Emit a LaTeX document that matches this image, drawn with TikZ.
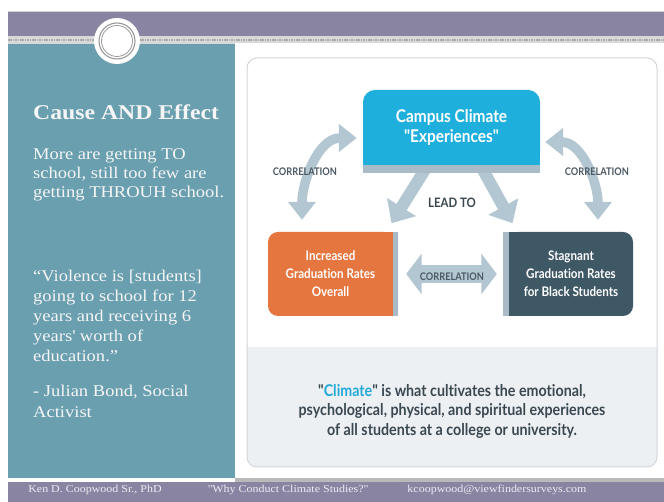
\documentclass[tikz,border=0pt]{standalone}
\usepackage{fontspec}
\setmainfont{Liberation Serif}[FakeStretch=1.13]
\newfontfamily\dfont{Lato}[FakeStretch=0.88,Ligatures=NoCommon]
\usetikzlibrary{arrows.meta}
\definecolor{band}{HTML}{8A84A3}
\definecolor{tealp}{HTML}{6A9FB0}
\definecolor{stripc}{HTML}{D9D9D9}
\definecolor{dashc}{HTML}{ABABAB}
\definecolor{cyanbox}{HTML}{1FAFDD}
\definecolor{orangebox}{HTML}{E5763F}
\definecolor{darkbox}{HTML}{3F5866}
\definecolor{edgegray}{HTML}{A9BBC6}
\definecolor{arrowc}{HTML}{B3C7D3}
\definecolor{labelc}{HTML}{4B5963}
\definecolor{lowbg}{HTML}{EDF0F2}
\definecolor{bodyc}{HTML}{3A4852}
\definecolor{climc}{HTML}{22A9D8}
\definecolor{leftc}{HTML}{F5F5F5}
\definecolor{footc}{HTML}{EEEBF3}
\definecolor{panelborder}{HTML}{D2D6D9}
\pgfdeclarelayer{back}
\pgfdeclarelayer{mid}
\pgfsetlayers{back,mid,main}
\begin{document}
\begin{tikzpicture}[x=1pt,y=1pt,
  lefttxt/.style={anchor=base west, text=leftc, inner sep=0, font=\fontsize{16.4}{19}\selectfont},
  foot/.style={anchor=base, text=footc, inner sep=0, font=\fontsize{10.6}{12}\selectfont},
  boxtxt/.style={text=white, align=center, inner sep=0, font=\dfont\bfseries\fontsize{13.2}{18}\selectfont},
  lbl/.style={text=labelc, inner sep=0, font=\dfont\bfseries\fontsize{10.5}{12}\selectfont},
  fatarrow/.style={draw=arrowc, line width=12pt, -{Triangle[width=33pt,length=19pt]}},
  curvarrow/.style={draw=arrowc, line width=9.5pt, {Triangle[width=27pt,length=18pt]}-{Triangle[width=27pt,length=18pt]}},
  midarrow/.style={draw=arrowc, line width=18.4pt, {Triangle[width=40pt,length=15.5pt]}-{Triangle[width=40pt,length=15.5pt]}},
]
\useasboundingbox (0,0) rectangle (664,502);
\begin{pgfonlayer}{back}
\fill[white] (0,0) rectangle (664,502);
% top band
\fill[band] (8,466) rectangle (664,490);
\fill[gray!35] (8,490) rectangle (664,491);
\fill[stripc] (8,458) rectangle (664,466);
\draw[dashc, line width=1.6pt, dash pattern=on 1.6pt off 0.8pt] (8,462) -- (664,462);
% teal panel
\fill[tealp] (8,24) rectangle (235,458);
\fill[white] (235,24) rectangle (664,459);
\fill[gray!55] (235,20) rectangle (664,23.5);
% footer
\fill[band] (8,0) rectangle (664,20);
% circle ornament
\fill[white] (117,461) circle (23);
\draw[gray!80, line width=1.1pt] (117,461) circle (18);
\draw[gray!80, line width=0.8pt] (117,461) circle (15.5);
% diagram panel
\fill[lowbg, rounded corners=10pt] (247,35) rectangle (657,155);
\fill[lowbg] (247,140) rectangle (657,155);
\draw[panelborder, line width=1pt, rounded corners=10pt] (247,35) rectangle (657,444);
\end{pgfonlayer}

% box fills
\fill[cyanbox, rounded corners=12pt] (363,337) rectangle (540,412);
\fill[cyanbox] (363,337) rectangle (540,360);
\fill[edgegray] (363,329) rectangle (540,337);
\fill[orangebox, rounded corners=10pt] (268,186) rectangle (393,270);
\fill[orangebox] (330,186) rectangle (393,270);
\fill[edgegray] (393,186) rectangle (398,270);
\fill[darkbox, rounded corners=10pt] (509,186) rectangle (633,270);
\fill[darkbox] (509,186) rectangle (570,270);
\fill[edgegray] (503,186) rectangle (509,270);

% left texts
\node[lefttxt, font=\bfseries\fontsize{21}{24}\selectfont] (title) at (33,382) {Cause AND Effect};
\node[lefttxt] (b1) at (33,342) {More are getting TO};
\node[lefttxt] (b2) at (33,323) {school, still too few are};
\node[lefttxt] (b3) at (33,304) {getting THROUH school.};
\node[lefttxt] (q1) at (33,220) {“Violence is [students]};
\node[lefttxt] (q2) at (33,200) {going to school for 12};
\node[lefttxt] (q3) at (33,180) {years and receiving 6};
\node[lefttxt] (q4) at (33,160) {years\textquotesingle{} worth of};
\node[lefttxt] (q5) at (33,140) {education.”};
\node[lefttxt] (a1) at (33,105) {- Julian Bond, Social};
\node[lefttxt] (a2) at (33,84) {Activist};

% footer texts
\node[foot] (f1) at (95,9) {Ken D. Coopwood Sr., PhD};
\node[foot] (f2) at (288,9) {\textquotedbl Why Conduct Climate Studies?\textquotedbl};
\node[foot] (f3) at (497,9) {kcoopwood@viewfindersurveys.com};

% diagram nodes
\node[boxtxt, minimum width=177pt, minimum height=75pt, font=\dfont\bfseries\fontsize{17.5}{20}\selectfont] (cyan) at (451.5,374.5) {Campus Climate\\"Experiences"};
\node[boxtxt, minimum width=125pt, minimum height=84pt] (orange) at (330.5,228) {Increased\\Graduation Rates\\Overall};
\node[boxtxt, minimum width=124pt, minimum height=84pt] (dark) at (571,228) {Stagnant\\Graduation Rates\\for Black Students};

\begin{pgfonlayer}{mid}
\draw[fatarrow] ([xshift=-25pt,yshift=-2pt]cyan.south) -- ([xshift=-60pt,yshift=-58pt]cyan.south);
\draw[fatarrow] ([xshift=30pt,yshift=-2pt]cyan.south) -- ([xshift=61pt,yshift=-58pt]cyan.south);
\draw[curvarrow] ([xshift=-28.5pt,yshift=12pt]orange.north) to[out=90,in=180] ([xshift=-6pt,yshift=-10.5pt]cyan.west);
\draw[curvarrow] ([xshift=27pt,yshift=12pt]dark.north) to[out=90,in=0] ([xshift=5pt,yshift=-14.5pt]cyan.east);
\draw[midarrow] ([xshift=13pt]orange.east) -- ([xshift=-12pt]dark.west);
\end{pgfonlayer}

\node[lbl] (c1) at (305,330) {CORRELATION};
\node[lbl] (c2) at (597,330) {CORRELATION};
\node[lbl] (c3) at (452,225) {CORRELATION};
\node[lbl, text=bodyc, font=\dfont\bfseries\fontsize{13}{15}\selectfont] (lead) at (452,299) {LEAD TO};

\node[align=center, text=bodyc, inner sep=0, font=\dfont\bfseries\fontsize{16.2}{19.5}\selectfont] (def) at (452,91)
  {"\textcolor{climc}{Climate}" is what cultivates the emotional,\\psychological, physical, and spiritual experiences\\of all students at a college or university.};
\end{tikzpicture}
\end{document}
